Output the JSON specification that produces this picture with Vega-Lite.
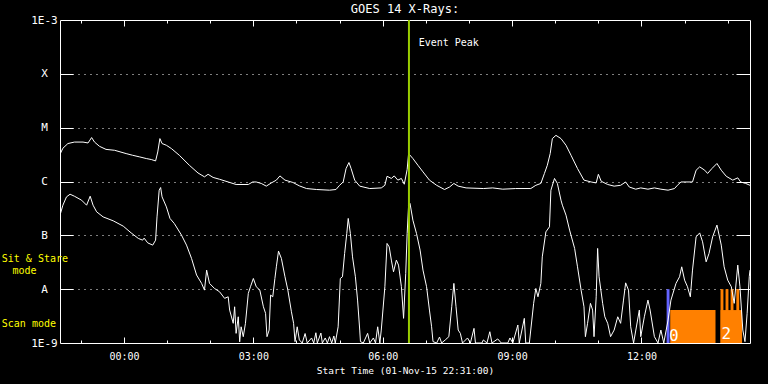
{
  "$schema": "https://vega.github.io/schema/vega-lite/v6.json",
  "width": 690,
  "height": 323,
  "autosize": {"type": "none"},
  "padding": {"left": 60, "top": 20, "right": 18, "bottom": 41},
  "background": "#000000",
  "title": {"text": "GOES 14 X-Rays:", "color": "#ffffff", "font": "DejaVu Sans Mono", "fontSize": 12, "fontWeight": "normal", "anchor": "middle", "frame": "group", "offset": -2},
  "datasets": {
    "bars": [
      {"kind": "blue", "t0": "2015-11-02T12:35:00Z", "t1": "2015-11-02T12:39:00Z", "v0": 1e-9, "v1": 1e-8},
      {"kind": "orange", "t0": "2015-11-02T12:40:00Z", "t1": "2015-11-02T13:43:00Z", "v0": 1e-9, "v1": 4.09e-9},
      {"kind": "orange", "t0": "2015-11-02T13:50:00Z", "t1": "2015-11-02T14:20:00Z", "v0": 1e-9, "v1": 4.09e-9},
      {"kind": "orange", "t0": "2015-11-02T13:50:00Z", "t1": "2015-11-02T13:54:00Z", "v0": 1e-9, "v1": 1e-8},
      {"kind": "orange", "t0": "2015-11-02T13:57:00Z", "t1": "2015-11-02T14:01:00Z", "v0": 1e-9, "v1": 1e-8},
      {"kind": "orange", "t0": "2015-11-02T14:04:00Z", "t1": "2015-11-02T14:08:00Z", "v0": 1e-9, "v1": 1e-8},
      {"kind": "orange", "t0": "2015-11-02T14:12:00Z", "t1": "2015-11-02T14:16:00Z", "v0": 1e-9, "v1": 1e-8}
    ],
    "flux": [
      {"c": "L", "t": "2015-11-01T22:31:00Z", "v": 3.2e-6},
      {"c": "L", "t": "2015-11-01T22:35:00Z", "v": 4.15e-6},
      {"c": "L", "t": "2015-11-01T22:42:00Z", "v": 5.07e-6},
      {"c": "L", "t": "2015-11-01T22:51:00Z", "v": 5.4e-6},
      {"c": "L", "t": "2015-11-01T23:03:00Z", "v": 5.4e-6},
      {"c": "L", "t": "2015-11-01T23:10:00Z", "v": 5.2e-6},
      {"c": "L", "t": "2015-11-01T23:15:00Z", "v": 6.55e-6},
      {"c": "L", "t": "2015-11-01T23:19:00Z", "v": 5.4e-6},
      {"c": "L", "t": "2015-11-01T23:26:00Z", "v": 4.5e-6},
      {"c": "L", "t": "2015-11-01T23:35:00Z", "v": 3.95e-6},
      {"c": "L", "t": "2015-11-01T23:47:00Z", "v": 3.8e-6},
      {"c": "L", "t": "2015-11-02T00:03:00Z", "v": 3.3e-6},
      {"c": "L", "t": "2015-11-02T00:12:00Z", "v": 3.07e-6},
      {"c": "L", "t": "2015-11-02T00:22:00Z", "v": 2.86e-6},
      {"c": "L", "t": "2015-11-02T00:31:00Z", "v": 2.67e-6},
      {"c": "L", "t": "2015-11-02T00:38:00Z", "v": 2.56e-6},
      {"c": "L", "t": "2015-11-02T00:44:00Z", "v": 2.41e-6},
      {"c": "L", "t": "2015-11-02T00:47:00Z", "v": 3.54e-6},
      {"c": "L", "t": "2015-11-02T00:50:00Z", "v": 6.27e-6},
      {"c": "L", "t": "2015-11-02T00:53:00Z", "v": 5.07e-6},
      {"c": "L", "t": "2015-11-02T00:59:00Z", "v": 4.71e-6},
      {"c": "L", "t": "2015-11-02T01:06:00Z", "v": 4.09e-6},
      {"c": "L", "t": "2015-11-02T01:17:00Z", "v": 3.07e-6},
      {"c": "L", "t": "2015-11-02T01:31:00Z", "v": 2.0e-6},
      {"c": "L", "t": "2015-11-02T01:43:00Z", "v": 1.44e-6},
      {"c": "L", "t": "2015-11-02T01:52:00Z", "v": 1.22e-6},
      {"c": "L", "t": "2015-11-02T01:57:00Z", "v": 1.36e-6},
      {"c": "L", "t": "2015-11-02T02:04:00Z", "v": 1.19e-6},
      {"c": "L", "t": "2015-11-02T02:13:00Z", "v": 1.1e-6},
      {"c": "L", "t": "2015-11-02T02:25:00Z", "v": 9.8e-7},
      {"c": "L", "t": "2015-11-02T02:36:00Z", "v": 8.8e-7},
      {"c": "L", "t": "2015-11-02T02:53:00Z", "v": 8.8e-7},
      {"c": "L", "t": "2015-11-02T02:59:00Z", "v": 9.8e-7},
      {"c": "L", "t": "2015-11-02T03:04:00Z", "v": 9.8e-7},
      {"c": "L", "t": "2015-11-02T03:11:00Z", "v": 9.2e-7},
      {"c": "L", "t": "2015-11-02T03:18:00Z", "v": 8.2e-7},
      {"c": "L", "t": "2015-11-02T03:25:00Z", "v": 9.4e-7},
      {"c": "L", "t": "2015-11-02T03:32:00Z", "v": 1.06e-6},
      {"c": "L", "t": "2015-11-02T03:37:00Z", "v": 1.27e-6},
      {"c": "L", "t": "2015-11-02T03:44:00Z", "v": 1.06e-6},
      {"c": "L", "t": "2015-11-02T03:55:00Z", "v": 9.6e-7},
      {"c": "L", "t": "2015-11-02T04:04:00Z", "v": 8.3e-7},
      {"c": "L", "t": "2015-11-02T04:14:00Z", "v": 7.4e-7},
      {"c": "L", "t": "2015-11-02T04:28:00Z", "v": 7.1e-7},
      {"c": "L", "t": "2015-11-02T04:46:00Z", "v": 6.9e-7},
      {"c": "L", "t": "2015-11-02T04:55:00Z", "v": 7.1e-7},
      {"c": "L", "t": "2015-11-02T05:00:00Z", "v": 8.5e-7},
      {"c": "L", "t": "2015-11-02T05:05:00Z", "v": 9.8e-7},
      {"c": "L", "t": "2015-11-02T05:09:00Z", "v": 1.74e-6},
      {"c": "L", "t": "2015-11-02T05:13:00Z", "v": 2.25e-6},
      {"c": "L", "t": "2015-11-02T05:16:00Z", "v": 1.74e-6},
      {"c": "L", "t": "2015-11-02T05:21:00Z", "v": 1.06e-6},
      {"c": "L", "t": "2015-11-02T05:28:00Z", "v": 8.2e-7},
      {"c": "L", "t": "2015-11-02T05:42:00Z", "v": 7.4e-7},
      {"c": "L", "t": "2015-11-02T05:58:00Z", "v": 7.6e-7},
      {"c": "L", "t": "2015-11-02T06:03:00Z", "v": 8.5e-7},
      {"c": "L", "t": "2015-11-02T06:06:00Z", "v": 1.25e-6},
      {"c": "L", "t": "2015-11-02T06:12:00Z", "v": 1.14e-6},
      {"c": "L", "t": "2015-11-02T06:16:00Z", "v": 1.27e-6},
      {"c": "L", "t": "2015-11-02T06:21:00Z", "v": 1.06e-6},
      {"c": "L", "t": "2015-11-02T06:26:00Z", "v": 1.14e-6},
      {"c": "L", "t": "2015-11-02T06:30:00Z", "v": 8.9e-7},
      {"c": "L", "t": "2015-11-02T06:34:00Z", "v": 1.67e-6},
      {"c": "L", "t": "2015-11-02T06:36:00Z", "v": 3.3e-6},
      {"c": "L", "t": "2015-11-02T06:42:00Z", "v": 2.67e-6},
      {"c": "L", "t": "2015-11-02T06:49:00Z", "v": 2.0e-6},
      {"c": "L", "t": "2015-11-02T06:56:00Z", "v": 1.51e-6},
      {"c": "L", "t": "2015-11-02T07:05:00Z", "v": 1.06e-6},
      {"c": "L", "t": "2015-11-02T07:15:00Z", "v": 8.5e-7},
      {"c": "L", "t": "2015-11-02T07:26:00Z", "v": 7.1e-7},
      {"c": "L", "t": "2015-11-02T07:33:00Z", "v": 7.9e-7},
      {"c": "L", "t": "2015-11-02T07:39:00Z", "v": 9.2e-7},
      {"c": "L", "t": "2015-11-02T07:45:00Z", "v": 8.2e-7},
      {"c": "L", "t": "2015-11-02T07:56:00Z", "v": 7.6e-7},
      {"c": "L", "t": "2015-11-02T08:20:00Z", "v": 7.4e-7},
      {"c": "L", "t": "2015-11-02T08:33:00Z", "v": 7.6e-7},
      {"c": "L", "t": "2015-11-02T08:47:00Z", "v": 7.2e-7},
      {"c": "L", "t": "2015-11-02T09:05:00Z", "v": 7.4e-7},
      {"c": "L", "t": "2015-11-02T09:26:00Z", "v": 7.4e-7},
      {"c": "L", "t": "2015-11-02T09:33:00Z", "v": 8.5e-7},
      {"c": "L", "t": "2015-11-02T09:40:00Z", "v": 9.2e-7},
      {"c": "L", "t": "2015-11-02T09:45:00Z", "v": 1.41e-6},
      {"c": "L", "t": "2015-11-02T09:49:00Z", "v": 2.0e-6},
      {"c": "L", "t": "2015-11-02T09:53:00Z", "v": 3.3e-6},
      {"c": "L", "t": "2015-11-02T09:56:00Z", "v": 6.27e-6},
      {"c": "L", "t": "2015-11-02T10:01:00Z", "v": 7.2e-6},
      {"c": "L", "t": "2015-11-02T10:08:00Z", "v": 6.27e-6},
      {"c": "L", "t": "2015-11-02T10:15:00Z", "v": 4.71e-6},
      {"c": "L", "t": "2015-11-02T10:22:00Z", "v": 3.07e-6},
      {"c": "L", "t": "2015-11-02T10:31:00Z", "v": 1.74e-6},
      {"c": "L", "t": "2015-11-02T10:40:00Z", "v": 1.06e-6},
      {"c": "L", "t": "2015-11-02T10:50:00Z", "v": 9.8e-7},
      {"c": "L", "t": "2015-11-02T10:57:00Z", "v": 9.4e-7},
      {"c": "L", "t": "2015-11-02T11:00:00Z", "v": 1.36e-6},
      {"c": "L", "t": "2015-11-02T11:04:00Z", "v": 1.01e-6},
      {"c": "L", "t": "2015-11-02T11:13:00Z", "v": 8.8e-7},
      {"c": "L", "t": "2015-11-02T11:22:00Z", "v": 8.2e-7},
      {"c": "L", "t": "2015-11-02T11:31:00Z", "v": 8.5e-7},
      {"c": "L", "t": "2015-11-02T11:38:00Z", "v": 9.8e-7},
      {"c": "L", "t": "2015-11-02T11:43:00Z", "v": 7.9e-7},
      {"c": "L", "t": "2015-11-02T11:52:00Z", "v": 7.2e-7},
      {"c": "L", "t": "2015-11-02T11:59:00Z", "v": 7.6e-7},
      {"c": "L", "t": "2015-11-02T12:09:00Z", "v": 7.2e-7},
      {"c": "L", "t": "2015-11-02T12:18:00Z", "v": 7.6e-7},
      {"c": "L", "t": "2015-11-02T12:27:00Z", "v": 7.2e-7},
      {"c": "L", "t": "2015-11-02T12:37:00Z", "v": 6.9e-7},
      {"c": "L", "t": "2015-11-02T12:46:00Z", "v": 7.4e-7},
      {"c": "L", "t": "2015-11-02T12:50:00Z", "v": 8.5e-7},
      {"c": "L", "t": "2015-11-02T12:55:00Z", "v": 9.8e-7},
      {"c": "L", "t": "2015-11-02T13:11:00Z", "v": 9.8e-7},
      {"c": "L", "t": "2015-11-02T13:16:00Z", "v": 1.62e-6},
      {"c": "L", "t": "2015-11-02T13:21:00Z", "v": 1.87e-6},
      {"c": "L", "t": "2015-11-02T13:28:00Z", "v": 1.62e-6},
      {"c": "L", "t": "2015-11-02T13:32:00Z", "v": 1.41e-6},
      {"c": "L", "t": "2015-11-02T13:38:00Z", "v": 1.74e-6},
      {"c": "L", "t": "2015-11-02T13:45:00Z", "v": 2.16e-6},
      {"c": "L", "t": "2015-11-02T13:51:00Z", "v": 1.62e-6},
      {"c": "L", "t": "2015-11-02T13:58:00Z", "v": 1.25e-6},
      {"c": "L", "t": "2015-11-02T14:07:00Z", "v": 1.06e-6},
      {"c": "L", "t": "2015-11-02T14:14:00Z", "v": 1.17e-6},
      {"c": "L", "t": "2015-11-02T14:18:00Z", "v": 9.8e-7},
      {"c": "L", "t": "2015-11-02T14:25:00Z", "v": 9.2e-7},
      {"c": "L", "t": "2015-11-02T14:31:00Z", "v": 8.5e-7},
      {"c": "S", "t": "2015-11-01T22:31:00Z", "v": 2.37e-7},
      {"c": "S", "t": "2015-11-01T22:35:00Z", "v": 3.63e-7},
      {"c": "S", "t": "2015-11-01T22:40:00Z", "v": 5.18e-7},
      {"c": "S", "t": "2015-11-01T22:45:00Z", "v": 5.8e-7},
      {"c": "S", "t": "2015-11-01T22:51:00Z", "v": 5.33e-7},
      {"c": "S", "t": "2015-11-01T23:01:00Z", "v": 4.5e-7},
      {"c": "S", "t": "2015-11-01T23:08:00Z", "v": 3.63e-7},
      {"c": "S", "t": "2015-11-01T23:13:00Z", "v": 5.33e-7},
      {"c": "S", "t": "2015-11-01T23:17:00Z", "v": 3.63e-7},
      {"c": "S", "t": "2015-11-01T23:22:00Z", "v": 2.73e-7},
      {"c": "S", "t": "2015-11-01T23:31:00Z", "v": 2.2e-7},
      {"c": "S", "t": "2015-11-01T23:45:00Z", "v": 1.86e-7},
      {"c": "S", "t": "2015-11-01T23:59:00Z", "v": 1.48e-7},
      {"c": "S", "t": "2015-11-02T00:10:00Z", "v": 1.11e-7},
      {"c": "S", "t": "2015-11-02T00:20:00Z", "v": 8.75e-8},
      {"c": "S", "t": "2015-11-02T00:26:00Z", "v": 8.14e-8},
      {"c": "S", "t": "2015-11-02T00:28:00Z", "v": 8.87e-8},
      {"c": "S", "t": "2015-11-02T00:33:00Z", "v": 7.25e-8},
      {"c": "S", "t": "2015-11-02T00:40:00Z", "v": 6.58e-8},
      {"c": "S", "t": "2015-11-02T00:44:00Z", "v": 8.14e-8},
      {"c": "S", "t": "2015-11-02T00:46:00Z", "v": 2.2e-7},
      {"c": "S", "t": "2015-11-02T00:49:00Z", "v": 6.89e-7},
      {"c": "S", "t": "2015-11-02T00:51:00Z", "v": 7.73e-7},
      {"c": "S", "t": "2015-11-02T00:53:00Z", "v": 5.18e-7},
      {"c": "S", "t": "2015-11-02T00:59:00Z", "v": 3.38e-7},
      {"c": "S", "t": "2015-11-02T01:04:00Z", "v": 2.06e-7},
      {"c": "S", "t": "2015-11-02T01:10:00Z", "v": 1.66e-7},
      {"c": "S", "t": "2015-11-02T01:20:00Z", "v": 1.01e-7},
      {"c": "S", "t": "2015-11-02T01:27:00Z", "v": 6.58e-8},
      {"c": "S", "t": "2015-11-02T01:34:00Z", "v": 3.73e-8},
      {"c": "S", "t": "2015-11-02T01:41:00Z", "v": 1.83e-8},
      {"c": "S", "t": "2015-11-02T01:48:00Z", "v": 1.28e-8},
      {"c": "S", "t": "2015-11-02T01:52:00Z", "v": 9.6e-9},
      {"c": "S", "t": "2015-11-02T01:55:00Z", "v": 2.26e-8},
      {"c": "S", "t": "2015-11-02T01:59:00Z", "v": 1.28e-8},
      {"c": "S", "t": "2015-11-02T02:06:00Z", "v": 1.03e-8},
      {"c": "S", "t": "2015-11-02T02:13:00Z", "v": 8.94e-9},
      {"c": "S", "t": "2015-11-02T02:20:00Z", "v": 6.75e-9},
      {"c": "S", "t": "2015-11-02T02:25:00Z", "v": 7.22e-9},
      {"c": "S", "t": "2015-11-02T02:27:00Z", "v": 4.09e-9},
      {"c": "S", "t": "2015-11-02T02:32:00Z", "v": 2.32e-9},
      {"c": "S", "t": "2015-11-02T02:34:00Z", "v": 4.71e-9},
      {"c": "S", "t": "2015-11-02T02:36:00Z", "v": 1.51e-9},
      {"c": "S", "t": "2015-11-02T02:39:00Z", "v": 3.07e-9},
      {"c": "S", "t": "2015-11-02T02:41:00Z", "v": 1.05e-9},
      {"c": "S", "t": "2015-11-02T02:43:00Z", "v": 2.0e-9},
      {"c": "S", "t": "2015-11-02T02:46:00Z", "v": 1.31e-9},
      {"c": "S", "t": "2015-11-02T02:49:00Z", "v": 2.32e-9},
      {"c": "S", "t": "2015-11-02T02:53:00Z", "v": 8.35e-9},
      {"c": "S", "t": "2015-11-02T02:56:00Z", "v": 1.11e-8},
      {"c": "S", "t": "2015-11-02T03:00:00Z", "v": 1.58e-8},
      {"c": "S", "t": "2015-11-02T03:04:00Z", "v": 1.11e-8},
      {"c": "S", "t": "2015-11-02T03:09:00Z", "v": 9.6e-9},
      {"c": "S", "t": "2015-11-02T03:14:00Z", "v": 4.71e-9},
      {"c": "S", "t": "2015-11-02T03:17:00Z", "v": 3.56e-9},
      {"c": "S", "t": "2015-11-02T03:19:00Z", "v": 1.31e-9},
      {"c": "S", "t": "2015-11-02T03:22:00Z", "v": 1.74e-9},
      {"c": "S", "t": "2015-11-02T03:24:00Z", "v": 7.77e-9},
      {"c": "S", "t": "2015-11-02T03:27:00Z", "v": 7.22e-9},
      {"c": "S", "t": "2015-11-02T03:30:00Z", "v": 1.58e-8},
      {"c": "S", "t": "2015-11-02T03:32:00Z", "v": 2.6e-8},
      {"c": "S", "t": "2015-11-02T03:35:00Z", "v": 5.09e-8},
      {"c": "S", "t": "2015-11-02T03:39:00Z", "v": 3.73e-8},
      {"c": "S", "t": "2015-11-02T03:44:00Z", "v": 1.7e-8},
      {"c": "S", "t": "2015-11-02T03:48:00Z", "v": 9.6e-9},
      {"c": "S", "t": "2015-11-02T03:53:00Z", "v": 3.8e-9},
      {"c": "S", "t": "2015-11-02T03:56:00Z", "v": 2.32e-9},
      {"c": "S", "t": "2015-11-02T03:58:00Z", "v": 1.06e-9},
      {"c": "S", "t": "2015-11-02T04:01:00Z", "v": 2.0e-9},
      {"c": "S", "t": "2015-11-02T04:04:00Z", "v": 1.14e-9},
      {"c": "S", "t": "2015-11-02T04:08:00Z", "v": 1e-9},
      {"c": "S", "t": "2015-11-02T04:12:00Z", "v": 1.5e-9},
      {"c": "S", "t": "2015-11-02T04:15:00Z", "v": 1e-9},
      {"c": "S", "t": "2015-11-02T04:21:00Z", "v": 1.24e-9},
      {"c": "S", "t": "2015-11-02T04:24:00Z", "v": 1e-9},
      {"c": "S", "t": "2015-11-02T04:27:00Z", "v": 1.55e-9},
      {"c": "S", "t": "2015-11-02T04:29:00Z", "v": 1e-9},
      {"c": "S", "t": "2015-11-02T04:34:00Z", "v": 1.53e-9},
      {"c": "S", "t": "2015-11-02T04:36:00Z", "v": 1e-9},
      {"c": "S", "t": "2015-11-02T04:40:00Z", "v": 1.24e-9},
      {"c": "S", "t": "2015-11-02T04:43:00Z", "v": 1e-9},
      {"c": "S", "t": "2015-11-02T04:46:00Z", "v": 1.31e-9},
      {"c": "S", "t": "2015-11-02T04:49:00Z", "v": 1e-9},
      {"c": "S", "t": "2015-11-02T04:52:00Z", "v": 1.35e-9},
      {"c": "S", "t": "2015-11-02T04:54:00Z", "v": 1e-9},
      {"c": "S", "t": "2015-11-02T04:58:00Z", "v": 2.0e-9},
      {"c": "S", "t": "2015-11-02T05:01:00Z", "v": 1.58e-8},
      {"c": "S", "t": "2015-11-02T05:04:00Z", "v": 1.7e-8},
      {"c": "S", "t": "2015-11-02T05:07:00Z", "v": 4.61e-8},
      {"c": "S", "t": "2015-11-02T05:10:00Z", "v": 1.08e-7},
      {"c": "S", "t": "2015-11-02T05:12:00Z", "v": 2.06e-7},
      {"c": "S", "t": "2015-11-02T05:15:00Z", "v": 1.08e-7},
      {"c": "S", "t": "2015-11-02T05:18:00Z", "v": 3.98e-8},
      {"c": "S", "t": "2015-11-02T05:22:00Z", "v": 1.7e-8},
      {"c": "S", "t": "2015-11-02T05:25:00Z", "v": 6.27e-9},
      {"c": "S", "t": "2015-11-02T05:28:00Z", "v": 1.74e-9},
      {"c": "S", "t": "2015-11-02T05:29:00Z", "v": 1.06e-9},
      {"c": "S", "t": "2015-11-02T05:33:00Z", "v": 1e-9},
      {"c": "S", "t": "2015-11-02T05:39:00Z", "v": 1.51e-9},
      {"c": "S", "t": "2015-11-02T05:42:00Z", "v": 1e-9},
      {"c": "S", "t": "2015-11-02T05:47:00Z", "v": 1.24e-9},
      {"c": "S", "t": "2015-11-02T05:50:00Z", "v": 1e-9},
      {"c": "S", "t": "2015-11-02T05:53:00Z", "v": 2.0e-9},
      {"c": "S", "t": "2015-11-02T05:56:00Z", "v": 1e-9},
      {"c": "S", "t": "2015-11-02T05:58:00Z", "v": 1.74e-9},
      {"c": "S", "t": "2015-11-02T06:03:00Z", "v": 1.11e-8},
      {"c": "S", "t": "2015-11-02T06:06:00Z", "v": 7.07e-8},
      {"c": "S", "t": "2015-11-02T06:09:00Z", "v": 6.11e-8},
      {"c": "S", "t": "2015-11-02T06:12:00Z", "v": 3.47e-8},
      {"c": "S", "t": "2015-11-02T06:15:00Z", "v": 2.1e-8},
      {"c": "S", "t": "2015-11-02T06:19:00Z", "v": 3.47e-8},
      {"c": "S", "t": "2015-11-02T06:22:00Z", "v": 2.8e-8},
      {"c": "S", "t": "2015-11-02T06:26:00Z", "v": 1.11e-8},
      {"c": "S", "t": "2015-11-02T06:29:00Z", "v": 2.87e-9},
      {"c": "S", "t": "2015-11-02T06:32:00Z", "v": 1.96e-8},
      {"c": "S", "t": "2015-11-02T06:34:00Z", "v": 1.08e-7},
      {"c": "S", "t": "2015-11-02T06:36:00Z", "v": 3.63e-7},
      {"c": "S", "t": "2015-11-02T06:38:00Z", "v": 3.91e-7},
      {"c": "S", "t": "2015-11-02T06:42:00Z", "v": 1.91e-7},
      {"c": "S", "t": "2015-11-02T06:47:00Z", "v": 1.08e-7},
      {"c": "S", "t": "2015-11-02T06:52:00Z", "v": 5.31e-8},
      {"c": "S", "t": "2015-11-02T06:56:00Z", "v": 2.26e-8},
      {"c": "S", "t": "2015-11-02T07:01:00Z", "v": 1.11e-8},
      {"c": "S", "t": "2015-11-02T07:05:00Z", "v": 4.09e-9},
      {"c": "S", "t": "2015-11-02T07:08:00Z", "v": 2.0e-9},
      {"c": "S", "t": "2015-11-02T07:10:00Z", "v": 1.06e-9},
      {"c": "S", "t": "2015-11-02T07:15:00Z", "v": 1e-9},
      {"c": "S", "t": "2015-11-02T07:19:00Z", "v": 1.29e-9},
      {"c": "S", "t": "2015-11-02T07:22:00Z", "v": 1e-9},
      {"c": "S", "t": "2015-11-02T07:27:00Z", "v": 1.14e-9},
      {"c": "S", "t": "2015-11-02T07:32:00Z", "v": 1.31e-9},
      {"c": "S", "t": "2015-11-02T07:36:00Z", "v": 4.71e-9},
      {"c": "S", "t": "2015-11-02T07:39:00Z", "v": 1.28e-8},
      {"c": "S", "t": "2015-11-02T07:42:00Z", "v": 4.71e-9},
      {"c": "S", "t": "2015-11-02T07:45:00Z", "v": 1.74e-9},
      {"c": "S", "t": "2015-11-02T07:48:00Z", "v": 1.51e-9},
      {"c": "S", "t": "2015-11-02T07:51:00Z", "v": 1e-9},
      {"c": "S", "t": "2015-11-02T07:58:00Z", "v": 1.24e-9},
      {"c": "S", "t": "2015-11-02T08:02:00Z", "v": 1e-9},
      {"c": "S", "t": "2015-11-02T08:07:00Z", "v": 1.87e-9},
      {"c": "S", "t": "2015-11-02T08:09:00Z", "v": 1e-9},
      {"c": "S", "t": "2015-11-02T08:18:00Z", "v": 1e-9},
      {"c": "S", "t": "2015-11-02T08:20:00Z", "v": 1.14e-9},
      {"c": "S", "t": "2015-11-02T08:25:00Z", "v": 1e-9},
      {"c": "S", "t": "2015-11-02T08:29:00Z", "v": 1.62e-9},
      {"c": "S", "t": "2015-11-02T08:32:00Z", "v": 1e-9},
      {"c": "S", "t": "2015-11-02T08:40:00Z", "v": 1.19e-9},
      {"c": "S", "t": "2015-11-02T08:45:00Z", "v": 1e-9},
      {"c": "S", "t": "2015-11-02T08:54:00Z", "v": 1e-9},
      {"c": "S", "t": "2015-11-02T08:57:00Z", "v": 1.24e-9},
      {"c": "S", "t": "2015-11-02T09:01:00Z", "v": 1e-9},
      {"c": "S", "t": "2015-11-02T09:08:00Z", "v": 2.16e-9},
      {"c": "S", "t": "2015-11-02T09:10:00Z", "v": 1e-9},
      {"c": "S", "t": "2015-11-02T09:17:00Z", "v": 2.87e-9},
      {"c": "S", "t": "2015-11-02T09:19:00Z", "v": 1e-9},
      {"c": "S", "t": "2015-11-02T09:24:00Z", "v": 1e-9},
      {"c": "S", "t": "2015-11-02T09:30:00Z", "v": 5.45e-9},
      {"c": "S", "t": "2015-11-02T09:33:00Z", "v": 1.03e-8},
      {"c": "S", "t": "2015-11-02T09:36:00Z", "v": 7.22e-9},
      {"c": "S", "t": "2015-11-02T09:40:00Z", "v": 1.28e-8},
      {"c": "S", "t": "2015-11-02T09:42:00Z", "v": 3.98e-8},
      {"c": "S", "t": "2015-11-02T09:47:00Z", "v": 1.16e-7},
      {"c": "S", "t": "2015-11-02T09:52:00Z", "v": 1.44e-7},
      {"c": "S", "t": "2015-11-02T09:54:00Z", "v": 6.89e-7},
      {"c": "S", "t": "2015-11-02T09:59:00Z", "v": 1.14e-6},
      {"c": "S", "t": "2015-11-02T10:03:00Z", "v": 9.18e-7},
      {"c": "S", "t": "2015-11-02T10:08:00Z", "v": 4.5e-7},
      {"c": "S", "t": "2015-11-02T10:10:00Z", "v": 3.63e-7},
      {"c": "S", "t": "2015-11-02T10:15:00Z", "v": 2.37e-7},
      {"c": "S", "t": "2015-11-02T10:20:00Z", "v": 1.25e-7},
      {"c": "S", "t": "2015-11-02T10:27:00Z", "v": 5.71e-8},
      {"c": "S", "t": "2015-11-02T10:31:00Z", "v": 2.6e-8},
      {"c": "S", "t": "2015-11-02T10:36:00Z", "v": 9.6e-9},
      {"c": "S", "t": "2015-11-02T10:40:00Z", "v": 4.71e-9},
      {"c": "S", "t": "2015-11-02T10:42:00Z", "v": 1.31e-9},
      {"c": "S", "t": "2015-11-02T10:45:00Z", "v": 2.32e-9},
      {"c": "S", "t": "2015-11-02T10:49:00Z", "v": 5.45e-9},
      {"c": "S", "t": "2015-11-02T10:52:00Z", "v": 4.09e-9},
      {"c": "S", "t": "2015-11-02T10:54:00Z", "v": 1.31e-9},
      {"c": "S", "t": "2015-11-02T10:57:00Z", "v": 7.22e-9},
      {"c": "S", "t": "2015-11-02T10:59:00Z", "v": 5.71e-8},
      {"c": "S", "t": "2015-11-02T11:01:00Z", "v": 1.7e-8},
      {"c": "S", "t": "2015-11-02T11:06:00Z", "v": 5.45e-9},
      {"c": "S", "t": "2015-11-02T11:09:00Z", "v": 3.07e-9},
      {"c": "S", "t": "2015-11-02T11:13:00Z", "v": 2.32e-9},
      {"c": "S", "t": "2015-11-02T11:17:00Z", "v": 1.31e-9},
      {"c": "S", "t": "2015-11-02T11:22:00Z", "v": 1.74e-9},
      {"c": "S", "t": "2015-11-02T11:27:00Z", "v": 3.07e-9},
      {"c": "S", "t": "2015-11-02T11:31:00Z", "v": 2.32e-9},
      {"c": "S", "t": "2015-11-02T11:35:00Z", "v": 6.27e-9},
      {"c": "S", "t": "2015-11-02T11:38:00Z", "v": 1.31e-8},
      {"c": "S", "t": "2015-11-02T11:42:00Z", "v": 9.6e-9},
      {"c": "S", "t": "2015-11-02T11:45:00Z", "v": 2.0e-9},
      {"c": "S", "t": "2015-11-02T11:49:00Z", "v": 1e-9},
      {"c": "S", "t": "2015-11-02T11:57:00Z", "v": 4.09e-9},
      {"c": "S", "t": "2015-11-02T11:59:00Z", "v": 1.31e-9},
      {"c": "S", "t": "2015-11-02T12:04:00Z", "v": 3.07e-9},
      {"c": "S", "t": "2015-11-02T12:09:00Z", "v": 6.27e-9},
      {"c": "S", "t": "2015-11-02T12:12:00Z", "v": 4.09e-9},
      {"c": "S", "t": "2015-11-02T12:18:00Z", "v": 1.31e-9},
      {"c": "S", "t": "2015-11-02T12:23:00Z", "v": 1e-9},
      {"c": "S", "t": "2015-11-02T12:27:00Z", "v": 1.74e-9},
      {"c": "S", "t": "2015-11-02T12:31:00Z", "v": 1e-9},
      {"c": "S", "t": "2015-11-02T12:37:00Z", "v": 2.67e-9},
      {"c": "S", "t": "2015-11-02T12:41:00Z", "v": 6.27e-9},
      {"c": "S", "t": "2015-11-02T12:48:00Z", "v": 1.28e-8},
      {"c": "S", "t": "2015-11-02T12:53:00Z", "v": 1.7e-8},
      {"c": "S", "t": "2015-11-02T12:56:00Z", "v": 2.6e-8},
      {"c": "S", "t": "2015-11-02T13:00:00Z", "v": 1.47e-8},
      {"c": "S", "t": "2015-11-02T13:04:00Z", "v": 1.11e-8},
      {"c": "S", "t": "2015-11-02T13:08:00Z", "v": 7.22e-9},
      {"c": "S", "t": "2015-11-02T13:11:00Z", "v": 2.26e-8},
      {"c": "S", "t": "2015-11-02T13:16:00Z", "v": 9.37e-8},
      {"c": "S", "t": "2015-11-02T13:21:00Z", "v": 1.11e-7},
      {"c": "S", "t": "2015-11-02T13:25:00Z", "v": 7.57e-8},
      {"c": "S", "t": "2015-11-02T13:30:00Z", "v": 3.22e-8},
      {"c": "S", "t": "2015-11-02T13:34:00Z", "v": 4.61e-8},
      {"c": "S", "t": "2015-11-02T13:39:00Z", "v": 9.37e-8},
      {"c": "S", "t": "2015-11-02T13:45:00Z", "v": 1.55e-7},
      {"c": "S", "t": "2015-11-02T13:51:00Z", "v": 6.58e-8},
      {"c": "S", "t": "2015-11-02T13:55:00Z", "v": 2.6e-8},
      {"c": "S", "t": "2015-11-02T14:00:00Z", "v": 1.47e-8},
      {"c": "S", "t": "2015-11-02T14:05:00Z", "v": 1.11e-8},
      {"c": "S", "t": "2015-11-02T14:09:00Z", "v": 5.45e-9},
      {"c": "S", "t": "2015-11-02T14:14:00Z", "v": 2.8e-8},
      {"c": "S", "t": "2015-11-02T14:17:00Z", "v": 1.11e-8},
      {"c": "S", "t": "2015-11-02T14:21:00Z", "v": 1.74e-9},
      {"c": "S", "t": "2015-11-02T14:24:00Z", "v": 1.06e-9},
      {"c": "S", "t": "2015-11-02T14:27:00Z", "v": 3.56e-9},
      {"c": "S", "t": "2015-11-02T14:30:00Z", "v": 1.7e-8},
      {"c": "S", "t": "2015-11-02T14:31:00Z", "v": 2.26e-8}
    ]
  },
  "resolve": {"axis": {"x": "independent", "y": "independent"}},
  "layer": [
    {
      "data": {"name": "bars"},
      "mark": {"type": "rect"},
      "encoding": {
        "x": {"field": "t0", "type": "temporal",
          "scale": {"type": "utc", "domain": [{"year": 2015, "month": 11, "date": 1, "hours": 22, "minutes": 31, "utc": true}, {"year": 2015, "month": 11, "date": 2, "hours": 14, "minutes": 31, "utc": true}], "nice": false},
          "axis": {"orient": "bottom", "values": [
            {"year": 2015, "month": 11, "date": 2, "hours": 0, "utc": true},
            {"year": 2015, "month": 11, "date": 2, "hours": 3, "utc": true},
            {"year": 2015, "month": 11, "date": 2, "hours": 6, "utc": true},
            {"year": 2015, "month": 11, "date": 2, "hours": 9, "utc": true},
            {"year": 2015, "month": 11, "date": 2, "hours": 12, "utc": true}],
            "labelExpr": "utcFormat(datum.value, '%H:%M')", "ticks": false, "labels": true, "labelPadding": 8, "labelFontSize": 10, "labelFlush": false, "labelOverlap": false, "domain": true, "grid": false,
            "title": "Start Time (01-Nov-15 22:31:00)", "titleFontSize": 9.5, "titlePadding": 4}},
        "x2": {"field": "t1"},
        "y": {"field": "v0", "type": "quantitative",
          "scale": {"type": "log", "domain": [1e-9, 1e-3], "nice": false},
          "axis": {"orient": "left", "values": [1e-9, 1e-8, 1e-7, 1e-6, 1e-5, 1e-4, 1e-3],
            "labelExpr": "datum.value > 5e-4 ? '1E-3' : datum.value > 5e-5 ? 'X' : datum.value > 5e-6 ? 'M' : datum.value > 5e-7 ? 'C' : datum.value > 5e-8 ? 'B' : datum.value > 5e-9 ? 'A' : '1E-9'",
            "ticks": false, "labels": true, "labelAlign": "center", "labelBaseline": "middle", "labelPadding": 16, "labelFontSize": 11, "labelOverlap": false, "labelFlush": false, "domain": true, "grid": false, "title": null}},
        "y2": {"field": "v1"},
        "color": {"field": "kind", "type": "nominal", "scale": {"domain": ["blue", "orange"], "range": ["#6464ff", "#ff8000"]}, "legend": null}
      }
    },
    {
      "data": {"name": "flux"},
      "mark": {"type": "line", "color": "#ffffff", "strokeWidth": 1, "clip": true},
      "encoding": {
        "x": {"field": "t", "type": "temporal",
          "scale": {"type": "utc", "domain": [{"year": 2015, "month": 11, "date": 1, "hours": 22, "minutes": 31, "utc": true}, {"year": 2015, "month": 11, "date": 2, "hours": 14, "minutes": 31, "utc": true}], "nice": false},
          "axis": {"orient": "bottom", "values": [
            {"year": 2015, "month": 11, "date": 1, "hours": 23, "utc": true},
            {"year": 2015, "month": 11, "date": 2, "hours": 0, "utc": true},
            {"year": 2015, "month": 11, "date": 2, "hours": 1, "utc": true},
            {"year": 2015, "month": 11, "date": 2, "hours": 2, "utc": true},
            {"year": 2015, "month": 11, "date": 2, "hours": 3, "utc": true},
            {"year": 2015, "month": 11, "date": 2, "hours": 4, "utc": true},
            {"year": 2015, "month": 11, "date": 2, "hours": 5, "utc": true},
            {"year": 2015, "month": 11, "date": 2, "hours": 6, "utc": true},
            {"year": 2015, "month": 11, "date": 2, "hours": 7, "utc": true},
            {"year": 2015, "month": 11, "date": 2, "hours": 8, "utc": true},
            {"year": 2015, "month": 11, "date": 2, "hours": 9, "utc": true},
            {"year": 2015, "month": 11, "date": 2, "hours": 10, "utc": true},
            {"year": 2015, "month": 11, "date": 2, "hours": 11, "utc": true},
            {"year": 2015, "month": 11, "date": 2, "hours": 12, "utc": true},
            {"year": 2015, "month": 11, "date": 2, "hours": 13, "utc": true},
            {"year": 2015, "month": 11, "date": 2, "hours": 14, "utc": true}],
            "ticks": true, "tickSize": -3, "labels": false, "domain": false, "grid": false, "title": null}},
        "y": {"field": "v", "type": "quantitative",
          "scale": {"type": "log", "domain": [1e-9, 1e-3], "nice": false},
          "axis": {"orient": "left", "values": [1e-8, 1e-7, 1e-6, 1e-5, 1e-4], "ticks": true, "tickSize": -13, "labels": false, "domain": false, "grid": true, "gridDash": [1, 5], "gridColor": "#ffffff", "gridOpacity": 1, "gridWidth": 1, "title": null}},
        "detail": {"field": "c", "type": "nominal"}
      }
    },
    {
      "data": {"values": [{"t": "2015-11-02T06:36:30Z"}]},
      "mark": {"type": "rule", "color": "#99cc00", "strokeWidth": 2},
      "encoding": {
        "x": {"field": "t", "type": "temporal",
          "scale": {"type": "utc", "domain": [{"year": 2015, "month": 11, "date": 1, "hours": 22, "minutes": 31, "utc": true}, {"year": 2015, "month": 11, "date": 2, "hours": 14, "minutes": 31, "utc": true}], "nice": false},
          "axis": {"orient": "bottom", "values": [
            {"year": 2015, "month": 11, "date": 2, "hours": 0, "utc": true},
            {"year": 2015, "month": 11, "date": 2, "hours": 3, "utc": true},
            {"year": 2015, "month": 11, "date": 2, "hours": 6, "utc": true},
            {"year": 2015, "month": 11, "date": 2, "hours": 9, "utc": true},
            {"year": 2015, "month": 11, "date": 2, "hours": 12, "utc": true}],
            "ticks": true, "tickSize": -6, "labels": false, "domain": false, "grid": false, "title": null}}
      }
    },
    {
      "data": {"values": [{"t": "2015-11-02T06:50:00Z", "v": 3.66e-4, "label": "Event Peak"}]},
      "mark": {"type": "text", "align": "left", "baseline": "middle", "color": "#ffffff", "font": "DejaVu Sans Mono", "fontSize": 10},
      "encoding": {
        "x": {"field": "t", "type": "temporal",
          "scale": {"type": "utc", "domain": [{"year": 2015, "month": 11, "date": 1, "hours": 22, "minutes": 31, "utc": true}, {"year": 2015, "month": 11, "date": 2, "hours": 14, "minutes": 31, "utc": true}], "nice": false},
          "axis": {"orient": "top", "values": [
            {"year": 2015, "month": 11, "date": 2, "hours": 0, "utc": true},
            {"year": 2015, "month": 11, "date": 2, "hours": 3, "utc": true},
            {"year": 2015, "month": 11, "date": 2, "hours": 6, "utc": true},
            {"year": 2015, "month": 11, "date": 2, "hours": 9, "utc": true},
            {"year": 2015, "month": 11, "date": 2, "hours": 12, "utc": true}],
            "ticks": true, "tickSize": -6, "labels": false, "domain": true, "grid": false, "title": null}},
        "y": {"field": "v", "type": "quantitative",
          "scale": {"type": "log", "domain": [1e-9, 1e-3], "nice": false},
          "axis": {"orient": "right", "values": [1e-8, 1e-7, 1e-6, 1e-5, 1e-4], "ticks": true, "tickSize": -14, "labels": false, "domain": true, "grid": false, "title": null}},
        "text": {"field": "label"}
      }
    },
    {
      "data": {"values": [
        {"t": "2015-11-01T21:10:00Z", "v": 3.66e-8, "label": "Sit & Stare"},
        {"t": "2015-11-01T21:25:00Z", "v": 2.19e-8, "label": "mode"},
        {"t": "2015-11-01T21:10:00Z", "v": 2.25e-9, "label": "Scan mode"}]},
      "mark": {"type": "text", "align": "left", "baseline": "middle", "color": "#ffff00", "font": "DejaVu Sans Mono", "fontSize": 10},
      "encoding": {
        "x": {"field": "t", "type": "temporal",
          "scale": {"type": "utc", "domain": [{"year": 2015, "month": 11, "date": 1, "hours": 22, "minutes": 31, "utc": true}, {"year": 2015, "month": 11, "date": 2, "hours": 14, "minutes": 31, "utc": true}], "nice": false},
          "axis": {"orient": "top", "values": [
            {"year": 2015, "month": 11, "date": 1, "hours": 23, "utc": true},
            {"year": 2015, "month": 11, "date": 2, "hours": 0, "utc": true},
            {"year": 2015, "month": 11, "date": 2, "hours": 1, "utc": true},
            {"year": 2015, "month": 11, "date": 2, "hours": 2, "utc": true},
            {"year": 2015, "month": 11, "date": 2, "hours": 3, "utc": true},
            {"year": 2015, "month": 11, "date": 2, "hours": 4, "utc": true},
            {"year": 2015, "month": 11, "date": 2, "hours": 5, "utc": true},
            {"year": 2015, "month": 11, "date": 2, "hours": 6, "utc": true},
            {"year": 2015, "month": 11, "date": 2, "hours": 7, "utc": true},
            {"year": 2015, "month": 11, "date": 2, "hours": 8, "utc": true},
            {"year": 2015, "month": 11, "date": 2, "hours": 9, "utc": true},
            {"year": 2015, "month": 11, "date": 2, "hours": 10, "utc": true},
            {"year": 2015, "month": 11, "date": 2, "hours": 11, "utc": true},
            {"year": 2015, "month": 11, "date": 2, "hours": 12, "utc": true},
            {"year": 2015, "month": 11, "date": 2, "hours": 13, "utc": true},
            {"year": 2015, "month": 11, "date": 2, "hours": 14, "utc": true}],
            "ticks": true, "tickSize": -3, "labels": false, "domain": false, "grid": false, "title": null}},
        "y": {"field": "v", "type": "quantitative", "scale": {"type": "log", "domain": [1e-9, 1e-3], "nice": false}, "axis": null},
        "text": {"field": "label"}
      }
    },
    {
      "data": {"values": [
        {"t": "2015-11-02T12:45:00Z", "v": 1.09e-9, "label": "0"},
        {"t": "2015-11-02T13:58:00Z", "v": 1.19e-9, "label": "2"}]},
      "mark": {"type": "text", "align": "center", "baseline": "alphabetic", "color": "#ffffff", "font": "DejaVu Sans Mono", "fontSize": 16},
      "encoding": {
        "x": {"field": "t", "type": "temporal", "scale": {"type": "utc", "domain": [{"year": 2015, "month": 11, "date": 1, "hours": 22, "minutes": 31, "utc": true}, {"year": 2015, "month": 11, "date": 2, "hours": 14, "minutes": 31, "utc": true}], "nice": false}, "axis": null},
        "y": {"field": "v", "type": "quantitative", "scale": {"type": "log", "domain": [1e-9, 1e-3], "nice": false}, "axis": null},
        "text": {"field": "label"}
      }
    }
  ],
  "config": {
    "view": {"stroke": null},
    "axis": {"domainColor": "#ffffff", "domainWidth": 1, "tickColor": "#ffffff", "tickWidth": 1, "labelColor": "#ffffff", "titleColor": "#ffffff", "labelFont": "DejaVu Sans Mono", "titleFont": "DejaVu Sans Mono", "titleFontWeight": "normal", "gridColor": "#ffffff"},
    "text": {"font": "DejaVu Sans Mono"}
  }
}
